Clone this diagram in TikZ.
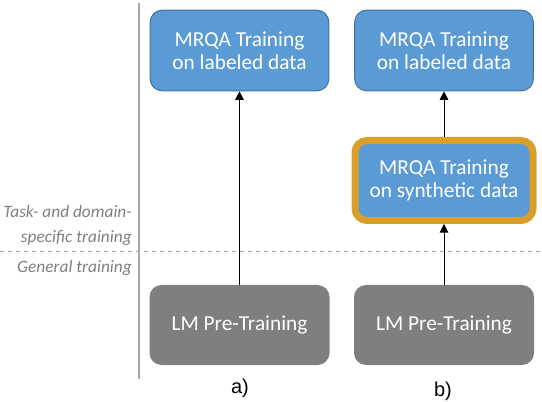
\documentclass[tikz,border=0pt]{standalone}
\usepackage{fontspec}
\setmainfont{Carlito}
\newfontfamily\arialfont{Liberation Sans}
\usetikzlibrary{arrows.meta}
\definecolor{boxblue}{HTML}{5B9BD5}
\definecolor{boxedge}{HTML}{41719C}
\definecolor{boxgray}{HTML}{7F7F7F}
\definecolor{synthgold}{HTML}{DA9F2B}
\definecolor{sidegray}{HTML}{7F7F7F}
\definecolor{rulegray}{HTML}{A6A6A6}
\begin{document}
\begin{tikzpicture}[x=0.75pt,y=-0.75pt,
    taskbox/.style={rounded corners=9pt, fill=boxblue, draw=boxedge, line width=0.75pt,
        minimum width=134pt, minimum height=60.5pt, text=white, align=center, font=\fontsize{16}{17.5}\selectfont},
    pretrainbox/.style={rounded corners=9pt, fill=boxgray, minimum width=135pt, minimum height=60pt,
        text=white, font=\fontsize{16}{17.5}\selectfont},
    synthbox/.style={taskbox, draw=synthgold, line width=5.25pt, minimum width=133.5pt, minimum height=60pt},
    sidelabel/.style={anchor=east, align=right, inner sep=0pt, text=sidegray, font=\fontsize{13}{19}\selectfont\itshape},
    caption/.style={font=\arialfont\fontsize{15}{17}\selectfont},
    uparrow/.style={-{Triangle[width=6.5pt,length=6.5pt]}, line width=0.75pt}]
    \useasboundingbox (0,0) rectangle (542,402);
    \draw[rulegray, line width=1.5pt] (138.5,3) -- (138.5,379);
    \draw[rulegray, dashed, line width=0.75pt] (0,252) -- (542,252);
    \node[sidelabel] (tasklbl) at (132,225.5) {Task- and domain-\\specific training};
    \node[sidelabel] (genlbl) at (132,268) {General training};

    % a) labeled data only
    \node[taskbox] (labeledA) at (239.5,50.5) {MRQA Training\\on labeled data};
    \node[pretrainbox] (pretrainA) at (239.5,325) {LM Pre-Training};
    \draw[uparrow] (pretrainA) -- (labeledA);
    \node[caption] (capA) at (240,388) {a)};

    % b) synthetic data in between
    \node[taskbox] (labeledB) at (444,50.5) {MRQA Training\\on labeled data};
    \node[synthbox] (synthB) at (444,180.5) {MRQA Training\\on synthetic data};
    \node[pretrainbox] (pretrainB) at (444,325) {LM Pre-Training};
    \draw[uparrow] (pretrainB) -- (synthB);
    \draw[uparrow] (synthB) -- (labeledB);
    \node[caption] (capB) at (443,391) {b)};
\end{tikzpicture}
\end{document}
